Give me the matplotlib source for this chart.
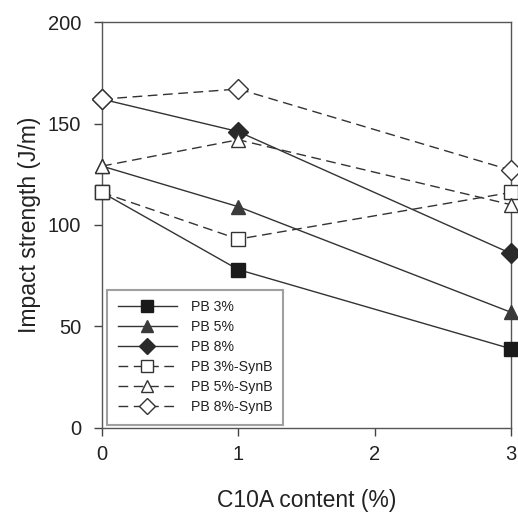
import matplotlib
matplotlib.use("Agg")
import matplotlib.pyplot as plt

plt.rcParams['font.family'] = ['Liberation Sans', 'DejaVu Sans']

# Данные
x = [0, 1, 3]
pb3 = [116, 78, 39]
pb5 = [129, 109, 57]
pb8 = [162, 146, 86]
pb3_synb = [116, 93, 116]
pb5_synb = [129, 142, 110]
pb8_synb = [162, 167, 127]

labels = ["PB 3%", "PB 5%", "PB 8%", "PB 3%-SynB", "PB 5%-SynB", "PB 8%-SynB"]
xticks = [0, 1, 2, 3]
yticks = [0, 50, 100, 150, 200]

fig = plt.figure(figsize=(5.18, 5.13), dpi=100)
ax = fig.add_axes([0.197, 0.166, 0.789, 0.791])

lc = "#333333"
dash = (7, 4)

ax.plot(x, pb3, '-', color=lc, lw=1.0, marker='s', ms=9.5, mfc='#1a1a1a', mec='#1a1a1a', label=labels[0], clip_on=False, zorder=3)
ax.plot(x, pb5, '-', color=lc, lw=1.0, marker='^', ms=10, mfc='#3a3a3a', mec='#3a3a3a', label=labels[1], clip_on=False, zorder=3)
ax.plot(x, pb8, '-', color=lc, lw=1.0, marker='D', ms=10, mfc='#2a2a2a', mec='#2a2a2a', label=labels[2], clip_on=False, zorder=3)
ax.plot(x, pb3_synb, '--', dashes=dash, color=lc, lw=1.0, marker='s', ms=9.5, mfc='white', mec=lc, label=labels[3], clip_on=False, zorder=3)
ax.plot(x, pb5_synb, '--', dashes=dash, color=lc, lw=1.0, marker='^', ms=10, mfc='white', mec=lc, label=labels[4], clip_on=False, zorder=3)
ax.plot(x, pb8_synb, '--', dashes=dash, color=lc, lw=1.0, marker='D', ms=10, mfc='white', mec=lc, label=labels[5], clip_on=False, zorder=3)

ax.set_xlim(0, 3)
ax.set_ylim(0, 200)
ax.set_xticks(xticks)
ax.set_yticks(yticks)
ax.tick_params(direction='out', length=6, width=1, colors='#444444', labelsize=14.5,
               labelcolor='#222222')
ax.tick_params(axis='x', pad=6)
ax.tick_params(axis='y', pad=9)

for s in ax.spines.values():
    s.set_color('#555555')
    s.set_linewidth(1.0)

ax.set_xlabel("C10A content (%)", fontsize=16.5, color='#222222', labelpad=18)
ax.set_ylabel("Impact strength (J/m)", fontsize=16.5, color='#222222', labelpad=5)

leg = ax.legend(loc='lower left', bbox_to_anchor=(0.012, 0.008), borderaxespad=0,
                fontsize=10.2, handlelength=4.2, handletextpad=1.0, labelspacing=0.42,
                fancybox=False, borderpad=0.75, markerscale=0.85)
leg.get_frame().set_edgecolor('#888888')
leg.get_frame().set_linewidth(1.5)
for t in leg.get_texts():
    t.set_color('#222222')

plt.savefig("out.png", dpi=100)
